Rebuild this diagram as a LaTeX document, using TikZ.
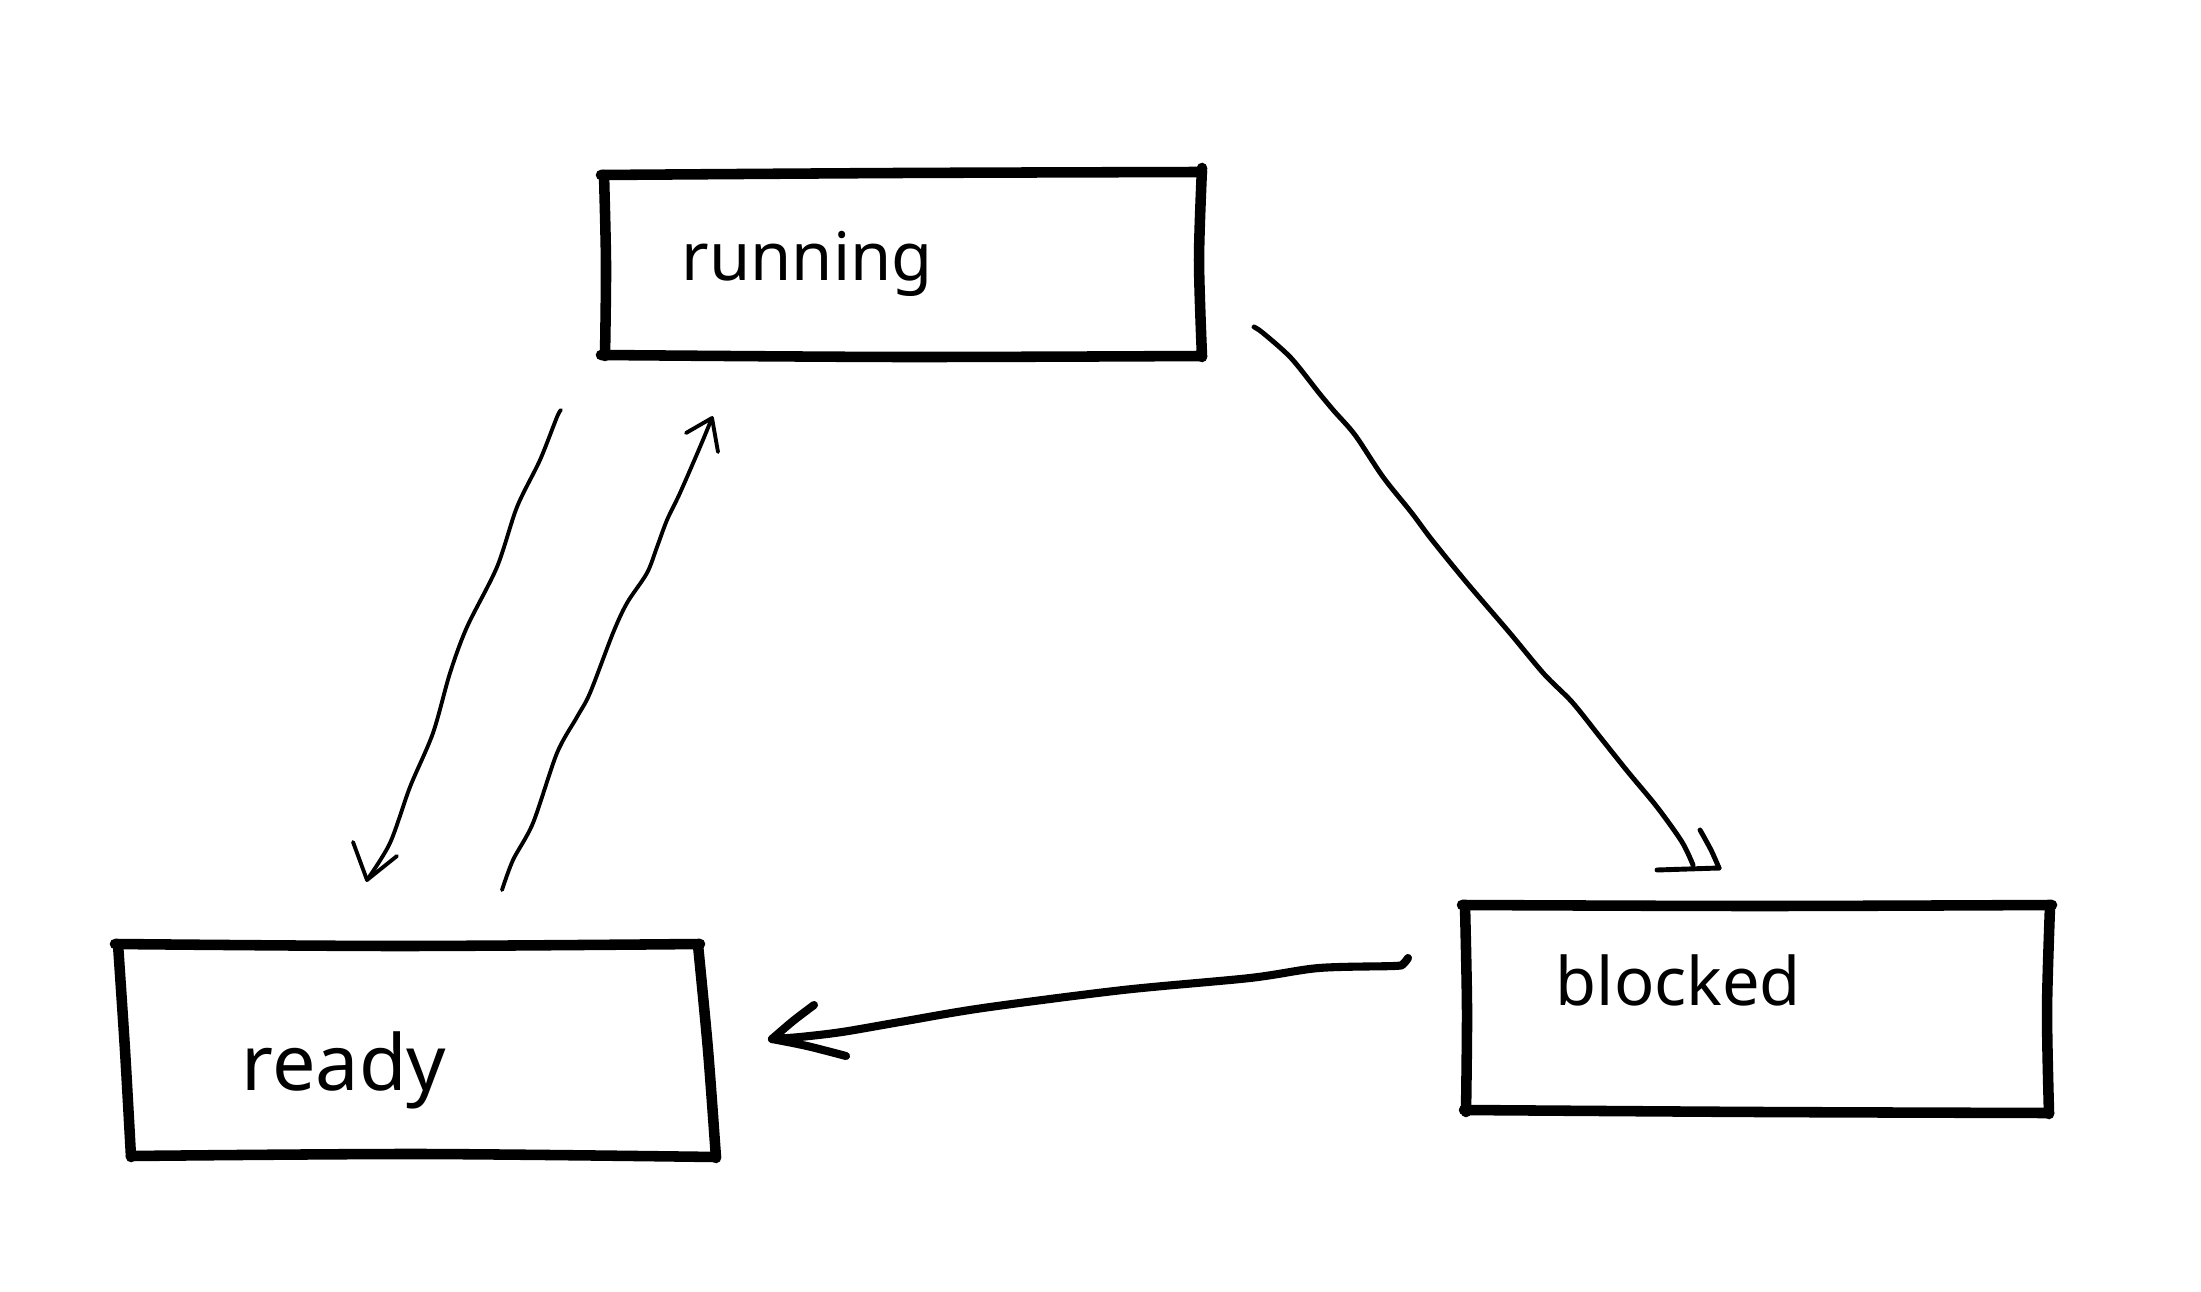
\documentclass[tikz,border=0pt]{standalone}
\usepackage{fontspec}
\setmainfont{Noto Sans}
\begin{document}
\begin{tikzpicture}[x=0.01cm,y=-0.01cm,
  boxline/.style={line width=3pt, line cap=round, line join=round},
  thinarrow/.style={line width=1.1pt, line cap=round, line join=round},
  midarrow/.style={line width=1.4pt, line cap=round, line join=round},
  thickarrow/.style={line width=2.3pt, line cap=round, line join=round},
  statelabel/.style={anchor=base west, inner sep=0pt}]
\useasboundingbox (0,0) rectangle (2201,1292);

% ---- running box ----
\draw[boxline] plot[smooth] coordinates {(601,175) (900,173) (1202,172)};
\draw[boxline] plot[smooth] coordinates {(1202,168) (1199,260) (1202,357)};
\draw[boxline] plot[smooth] coordinates {(604,175) (606,265) (605,356)};
\draw[boxline] plot[smooth] coordinates {(601,355) (900,357) (1202,356)};
\node[statelabel, font=\fontsize{19}{22}\selectfont] (running) at (681,281) {running};

% ---- ready box ----
\draw[boxline] plot[smooth] coordinates {(115,944) (400,946) (700,944)};
\draw[boxline] plot[smooth] coordinates {(698,945) (708,1050) (716,1158)};
\draw[boxline] plot[smooth] coordinates {(118,944) (125,1050) (131,1157)};
\draw[boxline] plot[smooth] coordinates {(131,1156) (420,1154) (716,1157)};
\node[statelabel, font=\fontsize{22}{26}\selectfont] (ready) at (241,1090) {ready};

% ---- blocked box ----
\draw[boxline] plot[smooth] coordinates {(1462,905) (1760,906) (2052,905)};
\draw[boxline] plot[smooth] coordinates {(2050,906) (2047,1010) (2049,1114)};
\draw[boxline] plot[smooth] coordinates {(1465,906) (1467,1010) (1466,1112)};
\draw[boxline] plot[smooth] coordinates {(1464,1110) (1760,1112) (2049,1113)};
\node[statelabel, font=\fontsize{19}{22}\selectfont] (blocked) at (1555,1005) {blocked};

% ---- connector endpoints ----
\coordinate (a1s) at (561,410);
\coordinate (a1t) at (367,880);
\coordinate (a2s) at (502,890);
\coordinate (a2t) at (712,418);
\coordinate (a3s) at (1254,327);
\coordinate (a3t) at (1719,868);
\coordinate (a4s) at (1408,958);
\coordinate (a4t) at (772,1039);

% running -> ready
\draw[thinarrow] plot[smooth, tension=0.5] coordinates {(a1s) (557,417) (540,460) (517,507) (497,567) (467,627) (450,673) (433,733) (410,787) (390,843) (a1t)};
\draw[thinarrow] (353,842) -- (a1t) -- (397,856);

% ready -> running
\draw[thinarrow] plot[smooth, tension=0.5] coordinates {(a2s) (513,860) (533,823) (557,753) (577,717) (590,693) (613,633) (627,603) (647,573) (657,547) (667,520) (680,493) (700,447) (a2t)};
\draw[thinarrow] (686,433) -- (a2t) -- (718,452);

% running -> blocked
\draw[midarrow] plot[smooth, tension=0.5] coordinates {(a3s) (1263,333) (1291,358) (1319,393) (1334,411) (1355,435) (1383,477) (1411,512) (1432,540) (1467,583) (1509,632) (1544,674) (1572,702) (1600,737) (1628,772) (1657,807) (1682,842) (1693,865)};
\draw[midarrow] (1657,870) -- (a3t);
\draw[midarrow] plot[smooth] coordinates {(1700,830) (1711,850) (a3t)};

% blocked -> ready
\draw[thickarrow] plot[smooth, tension=0.5] coordinates {(a4s) (1403,964) (1394,966) (1319,968) (1250,978) (1123,990) (983,1008) (900,1022) (842,1032) (800,1037) (a4t)};
\draw[thickarrow] plot[smooth] coordinates {(a4t) (793,1021) (814,1005)};
\draw[thickarrow] plot[smooth] coordinates {(a4t) (807,1046) (846,1056)};
\end{tikzpicture}
\end{document}
